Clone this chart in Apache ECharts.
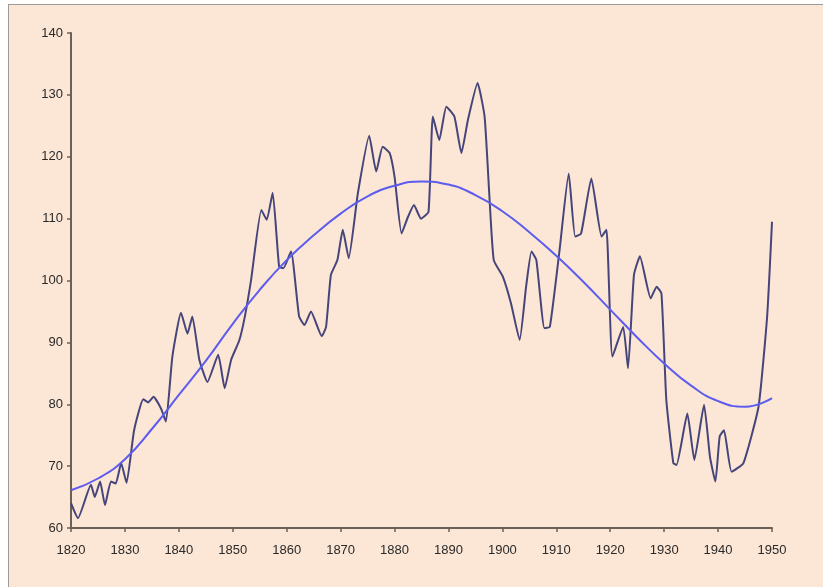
<!DOCTYPE html>
<html>
<head>
<meta charset="utf-8">
<script src="https://cdn.jsdelivr.net/npm/echarts@6/dist/echarts.min.js"></script>
<style>
  html, body { margin: 0; padding: 0; background: #ffffff; }
  #chart {
    position: absolute; left: 8px; top: 4px;
    width: 814px; height: 582px;
    background: #fce6d5;
    border-left: 1px solid #9a9a9a;
    border-top: 1px solid #9a9a9a;
  }
</style>
</head>
<body>
<div id="chart"></div>
<script>
  var obsYears = [1820, 1821.3, 1823.7, 1824.4, 1825.4, 1826.3, 1827.4, 1828.3, 1829.3, 1830.3,
    1831.7, 1833.4, 1834.3, 1835.3, 1836.7, 1837.6, 1838.8, 1840.4, 1841.6, 1842.5,
    1843.8, 1845.3, 1847.3, 1848.5, 1849.7, 1851.2, 1852.2, 1853.4, 1855.3, 1856.3,
    1857.4, 1858.6, 1859.4, 1860.8, 1862.3, 1863.3, 1864.5, 1866.5, 1867.3, 1868.2,
    1869.4, 1870.4, 1871.5, 1873.2, 1875.3, 1876.6, 1877.8, 1879.1, 1880, 1881.3,
    1882.5, 1883.6, 1884.9, 1886.3, 1887.1, 1888.3, 1889.6, 1891.1, 1892.4, 1893.6,
    1895.4, 1896.7, 1897.6, 1898.4, 1900.1, 1901.6, 1903.2, 1904.4, 1905.4, 1906.3,
    1907.8, 1908.8, 1910.6, 1912.3, 1913.5, 1914.6, 1916.5, 1918.4, 1919.3, 1920.4,
    1922.4, 1923.3, 1924.4, 1925.5, 1927.5, 1928.6, 1929.5, 1930.4, 1931.7, 1932.3,
    1934.3, 1935.6, 1937.4, 1938.5, 1939.5, 1940.3, 1941.1, 1942.5, 1944.7, 1947.5,
    1949.1, 1950];
  var obsValues = [64.0, 61.6, 67.0, 65.0, 67.5, 63.7, 67.5, 67.2, 70.5, 67.3,
    75.8, 80.8, 80.3, 81.2, 79.3, 77.2, 87.7, 94.8, 91.4, 94.2,
    87.2, 83.6, 88.0, 82.6, 87.2, 90.3, 94.0, 100.1, 111.4, 109.8,
    114.2, 102.2, 102.0, 104.7, 94.2, 92.8, 95.0, 91.0, 92.5, 100.9,
    103.3, 108.2, 103.6, 114.1, 123.4, 117.6, 121.6, 120.6, 116.8, 107.6,
    110.3, 112.2, 110.0, 111.1, 126.5, 122.7, 128.1, 126.5, 120.6, 125.9,
    131.9, 126.5, 113.5, 103.3, 100.6, 96.3, 90.4, 99.0, 104.7, 103.3,
    92.3, 92.5, 104.9, 117.3, 107.1, 107.6, 116.5, 107.1, 108.2, 87.7,
    92.5, 85.8, 100.9, 103.9, 97.1, 99.0, 97.9, 80.7, 70.5, 70.2,
    78.5, 71.0, 79.9, 71.5, 67.5, 74.8, 75.8, 69.1, 70.5, 79.6,
    94.2, 109.5];

  // fitted trend curve
  var trendYears = [1820, 1825, 1830, 1835, 1840, 1845, 1850, 1855, 1860, 1865, 1870, 1875, 1880,
    1885, 1890, 1895, 1900, 1905, 1910, 1915, 1920, 1925, 1930, 1935, 1940, 1945, 1950];
  var trendValues = [66.1, 68.0, 71.1, 76.0, 81.5, 87.0, 93.0, 98.5, 103.3, 107.3, 110.8, 113.6, 115.3,
    116.0, 115.5, 113.8, 111.2, 107.8, 104.0, 99.8, 95.3, 90.8, 86.6, 83.0, 80.5, 79.6, 81.0];

  var yearTicks = [1820, 1950, 10];
  var valueTicks = [60, 140, 10];

  function pairs(xs, ys) {
    return xs.map(function (x, i) { return [x, ys[i]]; });
  }

  var myChart = echarts.init(document.getElementById('chart'));
  var axisCol = '#6b5f56';

  var option = {
    animation: false,
    grid: { left: 62, top: 28, width: 701, height: 495 },
    xAxis: {
      type: 'value',
      min: yearTicks[0], max: yearTicks[1], interval: yearTicks[2],
      splitLine: { show: false },
      axisLine: { lineStyle: { color: axisCol, width: 2 } },
      axisTick: { show: true, length: 4, lineStyle: { color: axisCol, width: 1.5 } },
      axisLabel: {
        color: '#2a2a2a', fontSize: 13, fontFamily: 'Liberation Sans, Arial', margin: 16,
        formatter: function (v) { return String(v); }
      }
    },
    yAxis: {
      type: 'value',
      min: valueTicks[0], max: valueTicks[1], interval: valueTicks[2],
      splitLine: { show: false },
      axisLine: { show: true, lineStyle: { color: axisCol, width: 2 } },
      axisTick: { show: true, length: 4, lineStyle: { color: axisCol, width: 1.5 } },
      axisLabel: { color: '#2a2a2a', fontSize: 13, fontFamily: 'Liberation Sans, Arial', margin: 8 }
    },
    series: [
      {
        type: 'line',
        data: pairs(obsYears, obsValues),
        symbol: 'none',
        smooth: 0.15,
        lineStyle: { color: '#45457c', width: 2 }
      },
      {
        type: 'line',
        data: pairs(trendYears, trendValues),
        symbol: 'none',
        smooth: 0.5,
        lineStyle: { color: '#5c5cee', width: 2 }
      }
    ]
  };
  myChart.setOption(option);
</script>
</body>
</html>
